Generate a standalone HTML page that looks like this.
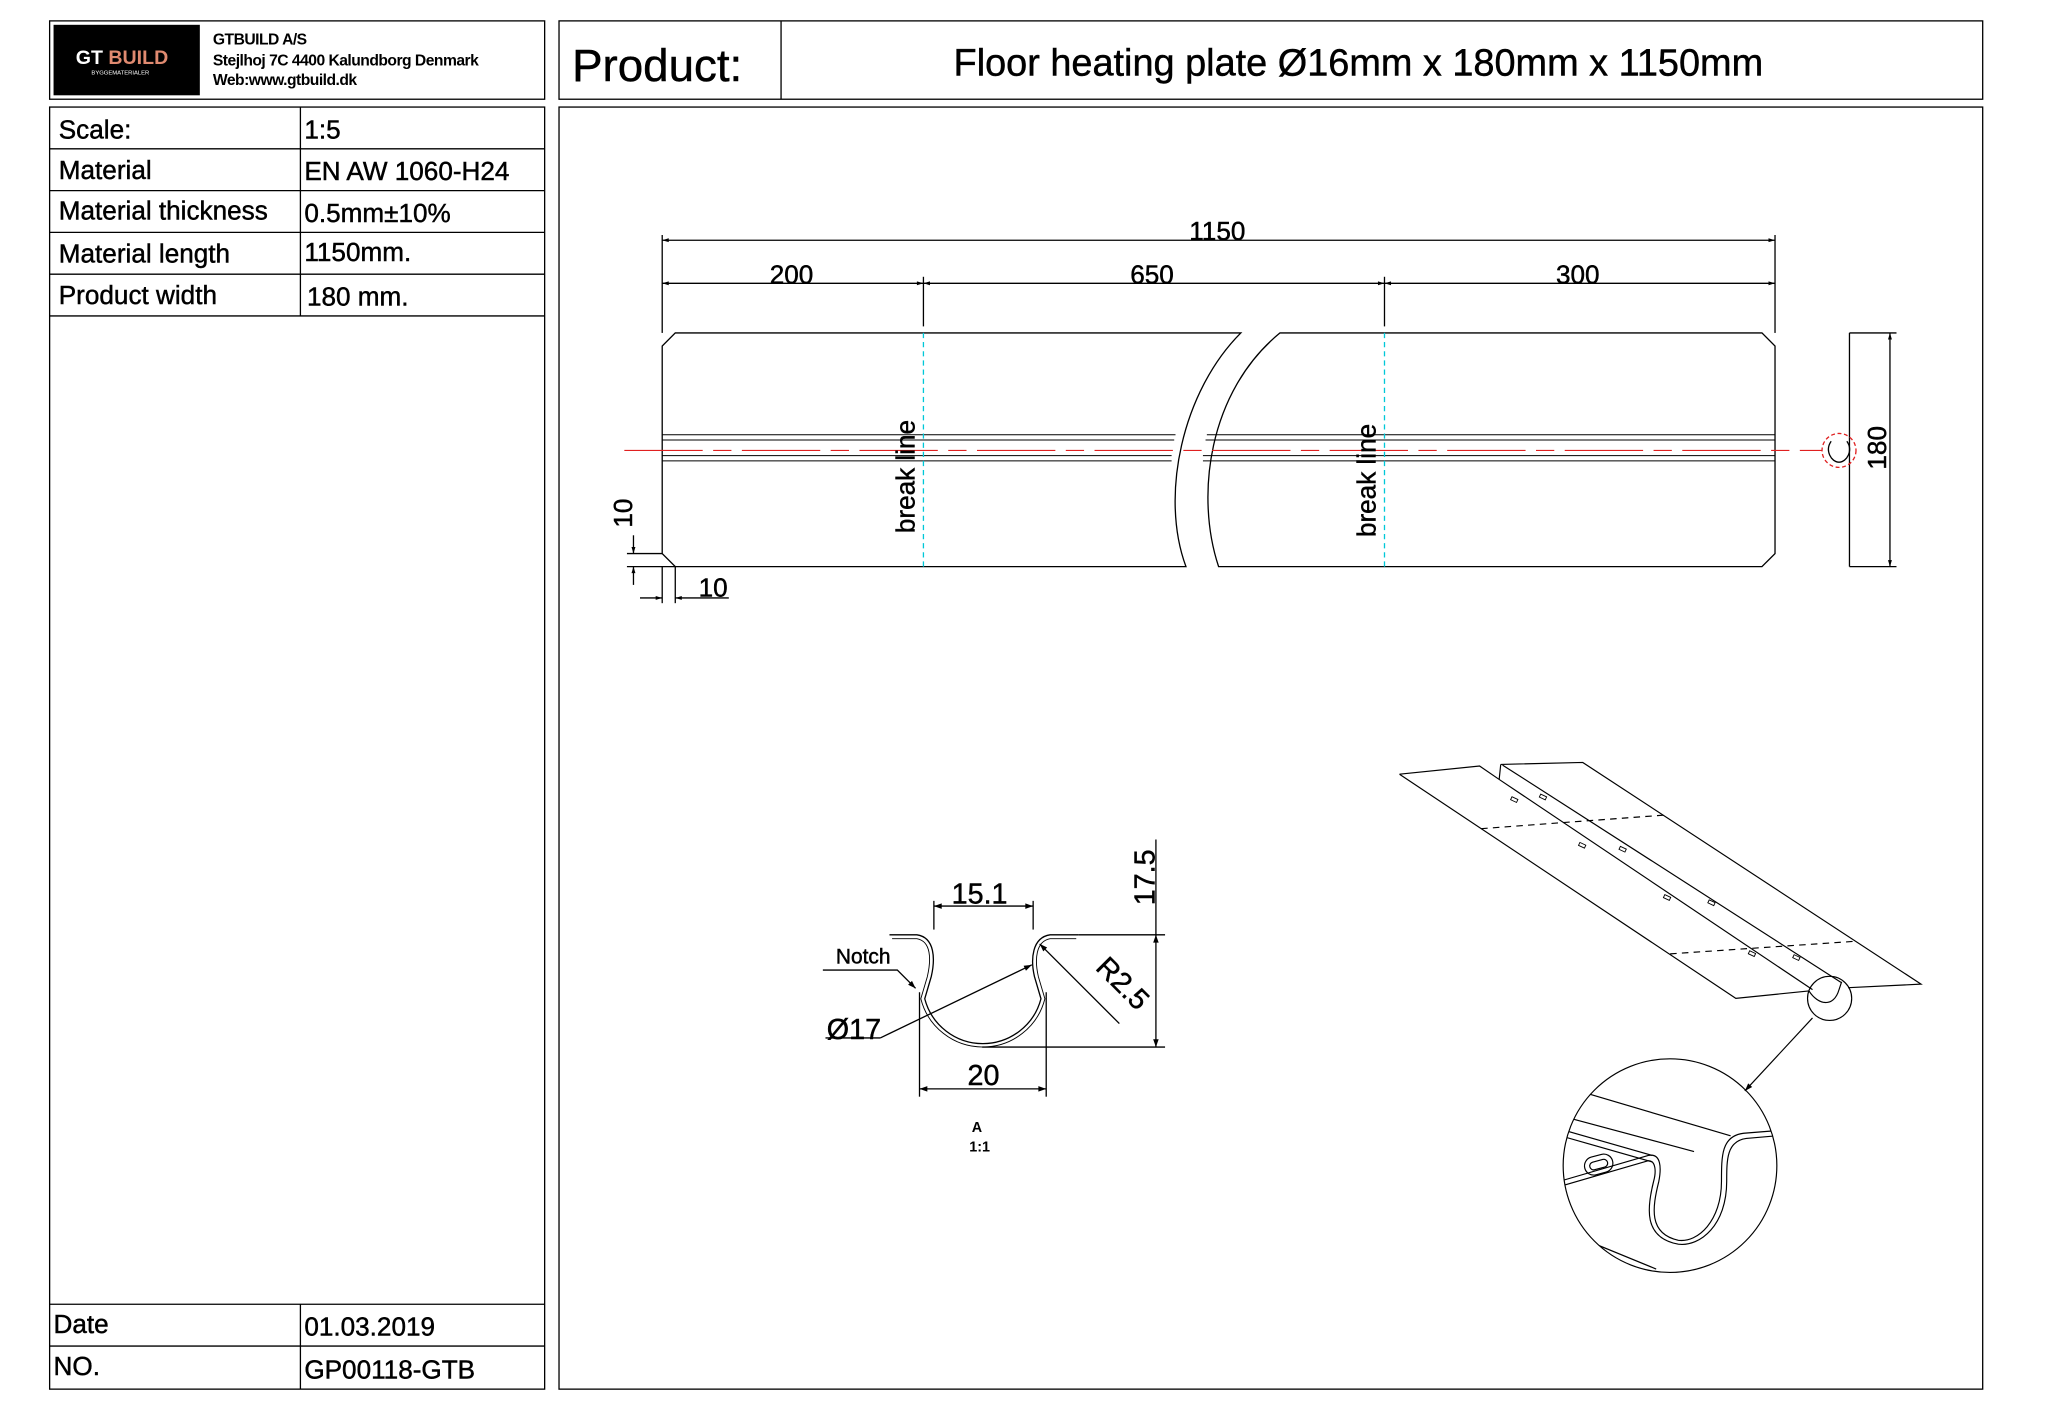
<!DOCTYPE html>
<html><head><meta charset="utf-8"><style>
html,body{margin:0;padding:0;background:#fff}
svg{display:block}
text{font-family:"Liberation Sans",Arial,sans-serif;fill:#000;stroke:#000;stroke-width:0.35}
</style></head><body>
<svg width="2048" height="1427" viewBox="0 0 1568 1093" preserveAspectRatio="none" xmlns="http://www.w3.org/2000/svg">
<defs>
<marker id="ar" viewBox="0 0 10 10" refX="10" refY="5" markerWidth="9" markerHeight="5" orient="auto-start-reverse" markerUnits="userSpaceOnUse"><path d="M0,2 L10,5 L0,8z" fill="#000" stroke="none"/></marker>
<marker id="as" viewBox="0 0 10 10" refX="10" refY="5" markerWidth="12" markerHeight="6" orient="auto-start-reverse" markerUnits="userSpaceOnUse"><path d="M0,1.5 L10,5 L0,8.5z" fill="#000" stroke="none"/></marker>
<clipPath id="cc"><circle cx="1278.6" cy="892.8" r="81.8"/></clipPath>
</defs>
<rect width="1568" height="1093" fill="#fff"/>
<g fill="none" stroke="#000" stroke-width="1">
<rect x="38" y="16" width="379" height="60"/>
<rect x="428" y="16" width="1090" height="60"/>
<line x1="598" y1="16" x2="598" y2="76"/>
<rect x="38" y="82" width="379" height="982"/>
<rect x="428" y="82" width="1090" height="982"/>
<line x1="38" y1="114" x2="417" y2="114"/>
<line x1="38" y1="146" x2="417" y2="146"/>
<line x1="38" y1="178" x2="417" y2="178"/>
<line x1="38" y1="210" x2="417" y2="210"/>
<line x1="38" y1="242" x2="417" y2="242"/>
<line x1="230" y1="82" x2="230" y2="242"/>
<line x1="38" y1="999" x2="417" y2="999"/>
<line x1="38" y1="1031" x2="417" y2="1031"/>
<line x1="230" y1="999" x2="230" y2="1064"/>
</g>
<rect x="41" y="19" width="112" height="54" fill="#000"/>
<text x="58" y="49" font-size="15" font-weight="bold" style="fill:#fff;stroke:none">GT <tspan style="fill:#e08a70">BUILD</tspan></text>
<text x="70" y="57" font-size="4.5" style="fill:#fff;stroke:none">BYGGEMATERIALER</text>
<text x="163" y="34" font-size="12" font-weight="bold" letter-spacing="-0.4" style="stroke:none">GTBUILD A/S</text>
<text x="163" y="50" font-size="12" font-weight="bold" letter-spacing="-0.4" style="stroke:none">Stejlhoj 7C 4400 Kalundborg Denmark</text>
<text x="163" y="65" font-size="12" font-weight="bold" letter-spacing="-0.4" style="stroke:none">Web:www.gtbuild.dk</text>
<g font-size="20">
<text x="45" y="106">Scale:</text><text x="233" y="106">1:5</text>
<text x="45" y="137">Material</text><text x="233" y="138">EN AW 1060-H24</text>
<text x="45" y="168">Material thickness</text><text x="233" y="170">0.5mm±10%</text>
<text x="45" y="201">Material length</text><text x="233" y="200">1150mm.</text>
<text x="45" y="233">Product width</text><text x="235" y="234">180 mm.</text>
<text x="41" y="1021">Date</text><text x="233" y="1023">01.03.2019</text>
<text x="41" y="1053">NO.</text><text x="233" y="1056">GP00118-GTB</text>
</g>
<text x="438" y="62" font-size="35">Product:</text>
<text x="1040" y="58" font-size="29" text-anchor="middle">Floor heating plate Ø16mm x 180mm x 1150mm</text>

<g fill="none" stroke="#000" stroke-width="1">
<path d="M517,255 L950,255 C905,300 888,380 908,434 L517,434 L507,424 L507,265 Z"/>
<path d="M980,255 L1349,255 L1359,265 L1359,424 L1349,434 L933,434 C915,380 925,300 980,255 Z"/>
<g stroke-width="0.8">
<line x1="507" y1="333" x2="900" y2="333"/><line x1="924" y1="333" x2="1359" y2="333"/>
<line x1="507" y1="337" x2="899" y2="337"/><line x1="923" y1="337" x2="1359" y2="337"/>
<line x1="507" y1="349" x2="897" y2="349"/><line x1="921" y1="349" x2="1359" y2="349"/>
<line x1="507" y1="353" x2="897" y2="353"/><line x1="921" y1="353" x2="1359" y2="353"/>
</g>
<line x1="478" y1="345" x2="1395" y2="345" stroke="#e02020" stroke-width="0.8" stroke-dasharray="60,8,14,8"/>
<line x1="707" y1="255" x2="707" y2="434" stroke="#00c8d8" stroke-dasharray="4,3"/>
<line x1="1060" y1="255" x2="1060" y2="434" stroke="#00c8d8" stroke-dasharray="4,3"/>
<line x1="507" y1="180" x2="507" y2="255"/><line x1="1359" y1="180" x2="1359" y2="255"/>
<line x1="707" y1="212" x2="707" y2="250"/><line x1="1060" y1="212" x2="1060" y2="250"/>
<line x1="507" y1="184" x2="1359" y2="184" marker-start="url(#ar)" marker-end="url(#ar)"/>
<line x1="507" y1="217" x2="707" y2="217" marker-start="url(#ar)" marker-end="url(#ar)"/>
<line x1="707" y1="217" x2="1060" y2="217" marker-start="url(#ar)" marker-end="url(#ar)"/>
<line x1="1060" y1="217" x2="1359" y2="217" marker-start="url(#ar)" marker-end="url(#ar)"/>
<line x1="1416" y1="255" x2="1416" y2="434"/>
<line x1="1416" y1="255" x2="1452" y2="255"/><line x1="1416" y1="434" x2="1452" y2="434"/>
<line x1="1447" y1="255" x2="1447" y2="434" marker-start="url(#ar)" marker-end="url(#ar)"/>
<circle cx="1408" cy="345" r="13" stroke="#e02020" stroke-dasharray="3,2"/>
<path d="M1402,338 C1397,345 1402,354 1408,354 C1414,354 1419,345 1414,338"/>
<line x1="480" y1="424" x2="507" y2="424"/><line x1="480" y1="434" x2="517" y2="434"/>
<line x1="485" y1="410" x2="485" y2="424" marker-end="url(#ar)"/><line x1="485" y1="448" x2="485" y2="434" marker-end="url(#ar)"/>
<line x1="507" y1="434" x2="507" y2="462"/><line x1="517" y1="434" x2="517" y2="462"/>
<line x1="490" y1="458" x2="507" y2="458" marker-end="url(#ar)"/><line x1="558" y1="458" x2="517" y2="458" marker-end="url(#ar)"/>
</g>
<g font-size="20">
<text x="932" y="184" text-anchor="middle">1150</text>
<text x="606" y="217" text-anchor="middle">200</text>
<text x="882" y="217" text-anchor="middle">650</text>
<text x="1208" y="217" text-anchor="middle">300</text>
<text x="546" y="457" text-anchor="middle">10</text>
<text transform="translate(484,393) rotate(-90)" text-anchor="middle">10</text>
<text transform="translate(1444,343) rotate(-90)" text-anchor="middle">180</text>
<text transform="translate(700,365) rotate(-90)" text-anchor="middle">break line</text>
<text transform="translate(1053,368) rotate(-90)" text-anchor="middle">break line</text>
</g>

<g fill="none" stroke="#000" stroke-width="1">
<path d="M681,716 L702,716 C716,718 716,735 713,748 L708,765 A46,46 0 0 0 797,765 L792,748 C789,735 790,718 804,716 L826,716"/>
<path d="M683,719 L702,719 C713,721 713,735 710,748 L705,765 A49,49 0 0 0 800,765 L795,748 C792,735 793,721 804,719 L824,719" stroke-width="0.7"/>
<line x1="715" y1="690" x2="715" y2="712"/><line x1="791" y1="690" x2="791" y2="712"/>
<line x1="715" y1="694" x2="791" y2="694" marker-start="url(#as)" marker-end="url(#as)"/>
<line x1="704" y1="760" x2="704" y2="840"/><line x1="801" y1="760" x2="801" y2="840"/>
<line x1="704" y1="834" x2="801" y2="834" marker-start="url(#as)" marker-end="url(#as)"/>
<line x1="826" y1="716" x2="892" y2="716"/><line x1="752" y1="802" x2="892" y2="802"/>
<line x1="885" y1="643" x2="885" y2="716"/>
<line x1="885" y1="716" x2="885" y2="802" marker-start="url(#as)" marker-end="url(#as)"/>
<line x1="857" y1="784" x2="796" y2="723" marker-end="url(#as)"/>
<polyline points="632,795 674,795"/>
<line x1="674" y1="795" x2="790" y2="739" marker-end="url(#as)"/>
<polyline points="630,743 687,743 701,757" marker-end="url(#as)"/>
</g>
<text x="750" y="692" font-size="22" text-anchor="middle">15.1</text>
<text x="753" y="831" font-size="22" text-anchor="middle">20</text>
<text transform="translate(884,672) rotate(-90)" font-size="22" text-anchor="middle">17.5</text>
<text transform="translate(838,742) rotate(45)" font-size="22">R2.5</text>
<text x="633" y="796" font-size="22">Ø17</text>
<text x="640" y="738" font-size="16">Notch</text>
<text x="748" y="867" font-size="11" font-weight="bold" text-anchor="middle" style="stroke:none">A</text>
<text x="750" y="882" font-size="11" font-weight="bold" text-anchor="middle" style="stroke:none">1:1</text>

<g fill="none" stroke="#000" stroke-width="0.9">
<path d="M1071.5,593 L1132.8,586.7 L1147.8,597"/>
<path d="M1071.5,593 L1329,764.7 L1385,759"/>
<path d="M1149,585.5 L1211.8,584 L1470.8,753.8 L1415,756.5"/>
<line x1="1147.8" y1="597" x2="1387.7" y2="758"/>
<line x1="1150.4" y1="586" x2="1409.5" y2="752.4"/>
<line x1="1149" y1="585.5" x2="1147.8" y2="597"/>
<line x1="1134" y1="634.7" x2="1274.5" y2="624.3" stroke-dasharray="5,4"/>
<line x1="1278.7" y1="730.6" x2="1420" y2="721" stroke-dasharray="5,4"/>
<g stroke-width="0.7">
<rect x="1179" y="609" width="5" height="2.5" transform="rotate(25 1181 610)"/>
<rect x="1157" y="611" width="5" height="2.5" transform="rotate(25 1159 612)"/>
<rect x="1209" y="646" width="5" height="2.5" transform="rotate(25 1211 647)"/>
<rect x="1240" y="649" width="5" height="2.5" transform="rotate(25 1242 650)"/>
<rect x="1274" y="686" width="5" height="2.5" transform="rotate(25 1276 687)"/>
<rect x="1308" y="690" width="5" height="2.5" transform="rotate(25 1310 691)"/>
<rect x="1339" y="729" width="5" height="2.5" transform="rotate(25 1341 730)"/>
<rect x="1373" y="732" width="5" height="2.5" transform="rotate(25 1375 733)"/>
</g>
<path d="M1385,759 C1392,770 1404,772 1408,758 L1410,752"/>
<circle cx="1400.8" cy="764.7" r="16.9"/>
<line x1="1387.7" y1="779.7" x2="1335.9" y2="835.6" marker-end="url(#as)"/>
<circle cx="1278.6" cy="892.8" r="81.8"/>
<g clip-path="url(#cc)">
<line x1="1210" y1="836" x2="1325" y2="870"/>
<line x1="1200" y1="856" x2="1297" y2="882"/>
<line x1="1195" y1="865" x2="1265" y2="885"/>
<line x1="1195" y1="870" x2="1265" y2="890"/>
<path d="M1190,906 L1262,885 C1272,883 1272,895 1270,905 C1265,925 1262,945 1285,950 C1300,952 1318,935 1318,905 C1318,885 1318,870 1335,868 L1360,866"/>
<path d="M1190,910 L1262,889 C1268,889 1268,898 1266,905 C1261,925 1258,948 1285,953 C1302,955 1322,938 1322,905 C1322,888 1322,874 1337,872 L1360,870"/>
<line x1="1190" y1="940" x2="1268" y2="972"/>
<rect x="1213" y="885" width="22" height="14" rx="7" transform="rotate(-15 1224 892)"/>
<rect x="1217" y="889" width="14" height="6" rx="3" transform="rotate(-15 1224 892)"/>
</g>
</g>
</svg>
</body></html>
